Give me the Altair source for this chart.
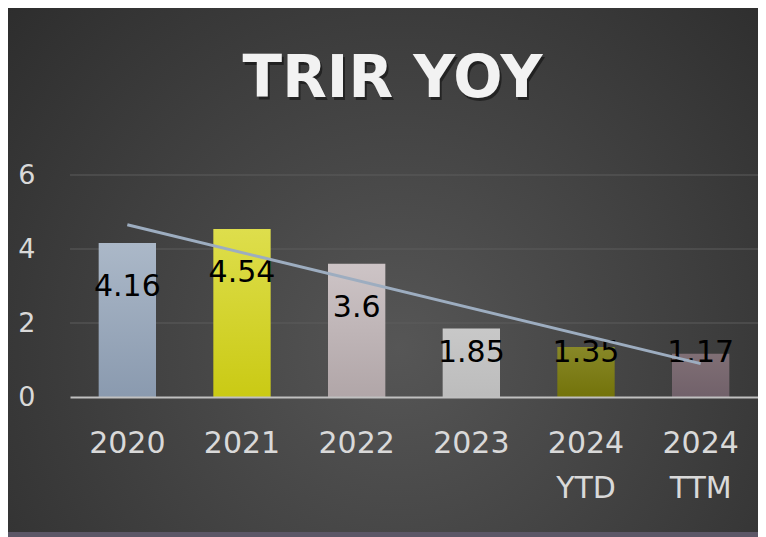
import altair as alt
import pandas as pd

categories = ["2020", "2021", "2022", "2023", "2024 YTD", "2024 TTM"]
values = [4.16, 4.54, 3.6, 1.85, 1.35, 1.17]
gridlines = [2, 4, 6]
y_ticks = [0, 2, 4, 6]
title_text = "TRIR YOY"

# styles (gradient top / bottom per bar)
bar_top = ["#abb8c8", "#dede4c", "#cdc4c6", "#c8c8c8", "#888828", "#806f75"]
bar_bottom = ["#8a9aaf", "#caca14", "#b1a6a8", "#bcbcbc", "#73730a", "#71616a"]

W, H = 688, 222
PL, PT, PR, PB = 62, 167, 0, 140

df = pd.DataFrame({"category": categories, "value": values,
                   "idx": list(range(len(categories)))})

FONT = "DejaVu Sans"
y_scale = alt.Scale(domain=[0, 6], nice=False)
y_axis = alt.Axis(values=y_ticks, title=None, grid=False, ticks=False, tickSize=0,
                  domain=False, labelFontSize=27, labelFont=FONT,
                  labelColor="#d9d9d9", labelPadding=35, zindex=1)
x_enc = alt.X("category:N", sort=categories,
              scale=alt.Scale(paddingInner=0.5, paddingOuter=0.25),
              axis=alt.Axis(title=None, orient="bottom",
                            labelExpr="split(datum.label, ' ')",
                            labelAngle=0, labelFontSize=30, labelFont=FONT,
                            labelColor="#d9d9d9", labelPadding=31,
                            labelLineHeight=45, labelBaseline="top",
                            ticks=False, tickSize=0, grid=False,
                            domainColor="#c0c0c0", domainWidth=2, zindex=1))

bg = alt.Chart(pd.DataFrame({"panel": ["background"]})).mark_rect(
    fill=alt.RadialGradient(
        gradient="radial",
        stops=[alt.GradientStop(offset=0, color="#565656"),
               alt.GradientStop(offset=1, color="#282828")],
        x1=0.52, y1=0.6, x2=0.52, y2=0.6, r1=0, r2=0.78)
).encode(x=alt.value(-PL), x2=alt.value(W + PR),
         y=alt.value(-PT), y2=alt.value(H + PB))

band = alt.Chart(pd.DataFrame({"panel": ["band"]})).mark_rect(color="#5c5767").encode(
    x=alt.value(-PL), x2=alt.value(W + PR),
    y=alt.value(H + PB - 5), y2=alt.value(H + PB))

title_df = pd.DataFrame({"title": [title_text]})
title_shadow = alt.Chart(title_df).mark_text(
    font=FONT, fontSize=58, fontWeight="bold", color="#000000", opacity=0.45,
    align="center", baseline="alphabetic", dx=2, dy=3
).encode(x=alt.value(322.5), y=alt.value(-78), text="title:N")
title_main = alt.Chart(title_df).mark_text(
    font=FONT, fontSize=58, fontWeight="bold", color="#f2f2f2",
    align="center", baseline="alphabetic"
).encode(x=alt.value(322.5), y=alt.value(-78), text="title:N")

grid = alt.Chart(pd.DataFrame({"g": gridlines})).mark_rule(
    color="#5c5c5c", strokeWidth=1).encode(
    y=alt.Y("g:Q", scale=y_scale, axis=y_axis))

bars = []
for cat, top, bot in zip(categories, bar_top, bar_bottom):
    bars.append(
        alt.Chart(df).transform_filter(alt.datum.category == cat).mark_bar(
            color=alt.LinearGradient(
                gradient="linear",
                stops=[alt.GradientStop(offset=0, color=top),
                       alt.GradientStop(offset=1, color=bot)],
                x1=0, x2=0, y1=0, y2=1)
        ).encode(x=x_enc, y=alt.Y("value:Q", scale=y_scale, axis=y_axis))
    )

labels = alt.Chart(df).transform_calculate(
    lab="max(datum.value - 1.19, 1.19)"
).mark_text(font=FONT, fontSize=30, color="#000000", baseline="middle").encode(
    x=x_enc, y=alt.Y("lab:Q", scale=y_scale, axis=y_axis),
    text=alt.Text("value:Q", format="~g"))

bar_group = alt.layer(*bars, labels)

trend = alt.Chart(df).transform_regression("idx", "value").mark_line(
    color="#9dadc0", strokeWidth=3).encode(
    x=alt.X("idx:Q", scale=alt.Scale(domain=[-0.5, 5.5], nice=False, zero=False), axis=None),
    y=alt.Y("value:Q", scale=y_scale, axis=y_axis))

chart = alt.layer(bg, band, title_shadow, title_main, grid, bar_group, trend).resolve_scale(
    x="independent"
).properties(
    width=W, height=H,
    autosize=alt.AutoSizeParams(type="none"),
    padding={"left": PL, "top": PT, "right": PR, "bottom": PB},
    background="#2e2e2e",
).configure_view(stroke=None)

chart.save("out.html", embed_options={"renderer": "svg", "actions": False})
